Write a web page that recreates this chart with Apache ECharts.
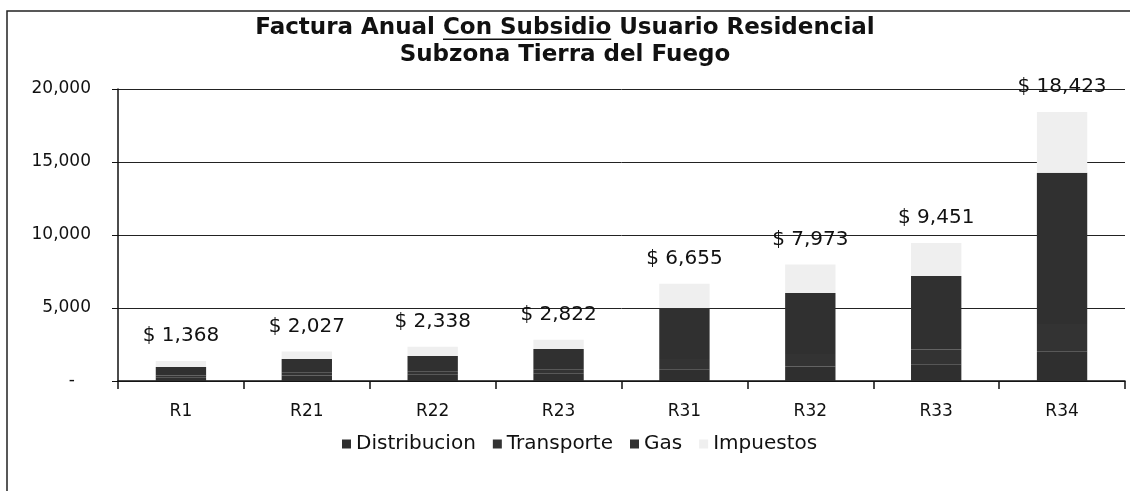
<!DOCTYPE html>
<html>
<head>
<meta charset="utf-8">
<script src="https://cdn.jsdelivr.net/npm/echarts@6/dist/echarts.min.js"></script>
<style>
  html, body { margin: 0; padding: 0; background: #fff; }
  #chart { width: 1130px; height: 491px; }
</style>
</head>
<body>
<div id="chart"></div>
<script>
// 类别与数据
const categories = ['R1', 'R21', 'R22', 'R23', 'R31', 'R32', 'R33', 'R34']
const distribucion = [250, 380, 420, 500, 800, 1000, 1150, 2000]
const transporte = [130, 220, 250, 300, 700, 850, 1000, 1900]
const gas = [580, 900, 1040, 1390, 3500, 4180, 5040, 10370]
const impuestos = [408, 527, 628, 632, 1655, 1943, 2261, 4153]
const totales = [1368, 2027, 2338, 2822, 6655, 7973, 9451, 18423]
const legendNames = ['Distribucion', 'Transporte', 'Gas', 'Impuestos']

const fmt = (v) => v.toLocaleString('en-US')

const baseFont = 'DejaVu Sans'
const titleSize = 23
const titleCenterX = 565
const titleTop = 15
const titleLH = 27

// 测量标题文字宽度，用于下划线
const ctx = document.createElement('canvas').getContext('2d')
ctx.font = `bold ${titleSize}px ${baseFont}`
const line1 = 'Factura Anual Con Subsidio Usuario Residencial'
const lineW = ctx.measureText(line1).width
const ulStart = titleCenterX - lineW / 2 + ctx.measureText('Factura Anual ').width
const ulEnd = ulStart + ctx.measureText('Con Subsidio').width
const ulY = titleTop + titleLH / 2 + titleSize * 0.38 + 2

const myEchart = echarts.init(document.querySelector('#chart'))

const colors = ['#2f2f2f', '#333333', '#303030', '#efefef']

myEchart.setOption({
  animation: false,
  textStyle: { fontFamily: baseFont },
  title: {
    text: line1 + '\nSubzona Tierra del Fuego',
    left: titleCenterX,
    textAlign: 'center',
    top: titleTop,
    padding: 0,
    textStyle: {
      fontSize: titleSize,
      fontWeight: 'bold',
      color: '#111',
      fontFamily: baseFont,
      lineHeight: titleLH,
    },
  },
  graphic: [
    {
      type: 'rect',
      shape: { x: 7, y: 11, width: 1300, height: 700 },
      style: { fill: 'none', stroke: '#222', lineWidth: 1.5 },
      silent: true,
    },
    {
      type: 'line',
      shape: { x1: ulStart, y1: ulY, x2: ulEnd, y2: ulY },
      style: { stroke: '#111', lineWidth: 1.6 },
      silent: true,
    },
  ],
  legend: {
    top: 429,
    left: 337,
    itemWidth: 9,
    itemHeight: 9,
    itemGap: 17,
    icon: 'rect',
    textStyle: { fontSize: 20, color: '#111', fontFamily: baseFont },
    data: legendNames,
  },
  grid: {
    left: 118,
    right: 5,
    top: 89,
    bottom: 110,
  },
  xAxis: {
    type: 'category',
    data: categories,
    axisLine: { lineStyle: { color: '#111', width: 1.5 } },
    axisTick: { show: true, length: 8, lineStyle: { color: '#111', width: 1.5 } },
    axisLabel: { fontSize: 17, color: '#111', margin: 22 },
  },
  yAxis: {
    type: 'value',
    min: 0,
    max: 20000,
    interval: 5000,
    axisLine: { show: true, lineStyle: { color: '#111', width: 1.5 } },
    axisTick: { show: true, length: 6, lineStyle: { color: '#111' } },
    splitLine: { lineStyle: { color: '#222', width: 1 } },
    axisLabel: {
      fontSize: 17,
      color: '#111',
      margin: 27,
      formatter: (v) => (v === 0 ? '-   ' : fmt(v)),
    },
  },
  series: legendNames.map((name, idx) => ({
    name,
    type: 'bar',
    stack: 'total',
    barWidth: '40%',
    data: [distribucion, transporte, gas, impuestos][idx],
    itemStyle: { color: colors[idx] },
    label: idx === 3
      ? {
          show: true,
          position: 'top',
          distance: 15,
          fontSize: 20,
          color: '#111',
          formatter: (p) => '$ ' + fmt(totales[p.dataIndex]),
        }
      : { show: false },
  })),
})
</script>
</body>
</html>
